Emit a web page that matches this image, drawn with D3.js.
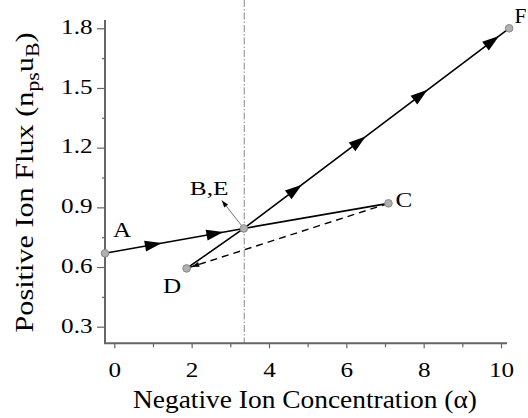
<!DOCTYPE html>
<html><head><meta charset="utf-8">
<script src="https://cdn.jsdelivr.net/npm/d3@7"></script>
<style>body{margin:0;background:#fff}svg{display:block}</style>
</head><body><svg id="c" width="528" height="418"></svg>
<script>
// Data
const pointLabels = ["A", "B,E", "C", "D", "F"];
const alphaVals = [-0.24, 3.35, 7.09, 1.87, 10.21];
const fluxVals = [0.669, 0.794, 0.92, 0.593, 1.80];
const xTicks = [0, 2, 4, 6, 8, 10];
const xMinorTicks = [1, 3, 5, 7, 9];
const yTicks = [0.3, 0.6, 0.9, 1.2, 1.5, 1.8];
const yMinorTicks = [0.45, 0.75, 1.05, 1.35, 1.65];
const criticalAlpha = 3.36;
// Arrow tip alphas along paths
const arrowsABC = [1.23, 2.82];
const arrowsBF = [4.85, 6.5, 8.1, 9.95];

const svg = d3.select("#c");
const x = d3.scaleLinear().domain([0, 10]).range([114.3, 501]);
const y = d3.scaleLinear().domain([0.3, 1.8]).range([326.7, 28.3]);
const axisColor = "#666";
const font = "'Liberation Serif', 'Times New Roman', serif";
const SX = 1.17; // horizontal stretch of the reference's type

const X0 = 105, X1 = 507, Y0 = 343.3, Y1 = 20;

// Vertical dash-dot line
svg.append("line").attr("x1", x(criticalAlpha)).attr("x2", x(criticalAlpha))
  .attr("y1", 0).attr("y2", Y0).attr("stroke", "#888").attr("stroke-width", 1)
  .attr("stroke-dasharray", "7,2,1.5,2");

// Axes
const gx = svg.append("g").attr("transform", `translate(0,${Y0})`);
gx.call(d3.axisBottom(x).tickValues(xTicks).tickSize(5).tickFormat(d3.format("d")));
const gxm = svg.append("g").attr("transform", `translate(0,${Y0})`);
gxm.call(d3.axisBottom(x).tickValues(xMinorTicks).tickSize(4).tickFormat(""));
const gy = svg.append("g").attr("transform", `translate(${X0},0)`);
gy.call(d3.axisLeft(y).tickValues(yTicks).tickSize(8).tickFormat(d3.format(".1f")));
const gym = svg.append("g").attr("transform", `translate(${X0},0)`);
gym.call(d3.axisLeft(y).tickValues(yMinorTicks).tickSize(3).tickFormat(""));
[gx, gxm, gy, gym].forEach(g => {
  g.attr("font-family", null).attr("font-size", null);
  g.select(".domain").remove();
  g.selectAll(".tick line").attr("stroke", axisColor).attr("stroke-width", 1.2);
  g.selectAll("text").attr("fill", "#000").style("font-family", font).style("font-size", "21.5px");
});
gx.selectAll("text").attr("x", 0).attr("y", 33.7).attr("dy", null).attr("transform", `scale(${SX},1)`);
gy.selectAll("text").attr("x", -12.5 / SX).attr("y", -2).attr("dy", "0.34em").attr("transform", `scale(${SX},1)`);
svg.append("path").attr("d", `M${X0},${Y1}V${Y0}H${X1}`).attr("fill", "none")
  .attr("stroke", axisColor).attr("stroke-width", 2);

// Axis titles
svg.append("text").attr("x", 305).attr("y", 408).attr("text-anchor", "middle")
  .attr("textLength", 344).attr("lengthAdjust", "spacingAndGlyphs")
  .style("font-family", font).style("font-size", "25px")
  .text("Negative Ion Concentration (\u03B1)");
const yt = svg.append("text").attr("transform", "translate(33,182.5) rotate(-90)")
  .attr("x", -150).attr("textLength", 300).attr("lengthAdjust", "spacingAndGlyphs")
  .style("font-family", font).style("font-size", "25px");
yt.append("tspan").text("Positive Ion Flux (n");
yt.append("tspan").attr("dy", 6).style("font-size", "18px").text("ps");
yt.append("tspan").attr("dy", -6).text("u");
yt.append("tspan").attr("dy", 6).style("font-size", "18px").text("B");
yt.append("tspan").attr("dy", -6).text(")");

const P = i => [x(alphaVals[i]), y(fluxVals[i])];
const line = d3.line();

// Paths
svg.append("path").attr("d", line([P(0), P(1), P(2)])).attr("fill", "none")
  .attr("stroke", "#000").attr("stroke-width", 1.6);
svg.append("path").attr("d", line([P(3), P(1), P(4)])).attr("fill", "none")
  .attr("stroke", "#000").attr("stroke-width", 1.6);
svg.append("path").attr("d", line([P(2), P(3)])).attr("fill", "none")
  .attr("stroke", "#000").attr("stroke-width", 1.4).attr("stroke-dasharray", "7,5");

function arrowAt(p0, p1, a, len, w) {
  const xa = x(a);
  const t = (xa - p0[0]) / (p1[0] - p0[0]);
  const tip = [xa, p0[1] + t * (p1[1] - p0[1])];
  const dx = p1[0] - p0[0], dy = p1[1] - p0[1], L = Math.hypot(dx, dy);
  const ux = dx / L, uy = dy / L;
  const b = [tip[0] - ux * len, tip[1] - uy * len];
  svg.append("path").attr("d", `M${tip[0]},${tip[1]}L${b[0] - uy * w},${b[1] + ux * w}L${b[0] + uy * w},${b[1] - ux * w}Z`)
    .attr("fill", "#000");
}
arrowsABC.forEach(a => arrowAt(P(0), P(1), a, 17, 5.5));
arrowsBF.forEach(a => arrowAt(P(1), P(4), a, 17, 5.5));
arrowAt(P(2), P(3), alphaVals[3] + 0.12, 8, 2.5);

// B,E pointer
{
  const b = P(1);
  const e = [b[0] - 22, b[1] - 28];
  svg.append("line").attr("x1", b[0]).attr("y1", b[1]).attr("x2", e[0]).attr("y2", e[1])
    .attr("stroke", "#333").attr("stroke-width", 0.7);
  const dx = e[0] - b[0], dy = e[1] - b[1], L = Math.hypot(dx, dy), ux = dx / L, uy = dy / L;
  const bb = [e[0] - ux * 7, e[1] - uy * 7];
  svg.append("path").attr("d", `M${e[0]},${e[1]}L${bb[0] - uy * 2.5},${bb[1] + ux * 2.5}L${bb[0] + uy * 2.5},${bb[1] - ux * 2.5}Z`).attr("fill", "#000");
}

// Points
svg.selectAll("circle.pt").data(alphaVals).join("circle").attr("class", "pt")
  .attr("cx", (d) => x(d)).attr("cy", (d, i) => y(fluxVals[i])).attr("r", 3.8)
  .attr("fill", "#b0b0b0").attr("stroke", "#888").attr("stroke-width", 1);

// Labels
const labelOffsets = [[8, -16], [-54, -33.5], [7, 3.7], [-23.5, 25], [5.5, -5.6]];
const labelSizes = [21.5, 19.5, 21.5, 21.5, 21.5];
const labelScale = [SX, 1.3, SX, SX, 1.0];
svg.selectAll("text.lbl").data(pointLabels).join("text").attr("class", "lbl")
  .attr("x", (d, i) => (P(i)[0] + labelOffsets[i][0]) / labelScale[i])
  .attr("y", (d, i) => P(i)[1] + labelOffsets[i][1])
  .attr("transform", (d, i) => `scale(${labelScale[i]},1)`)
  .style("font-family", font).style("font-size", (d, i) => labelSizes[i] + "px")
  .text(d => d);
</script></body></html>
